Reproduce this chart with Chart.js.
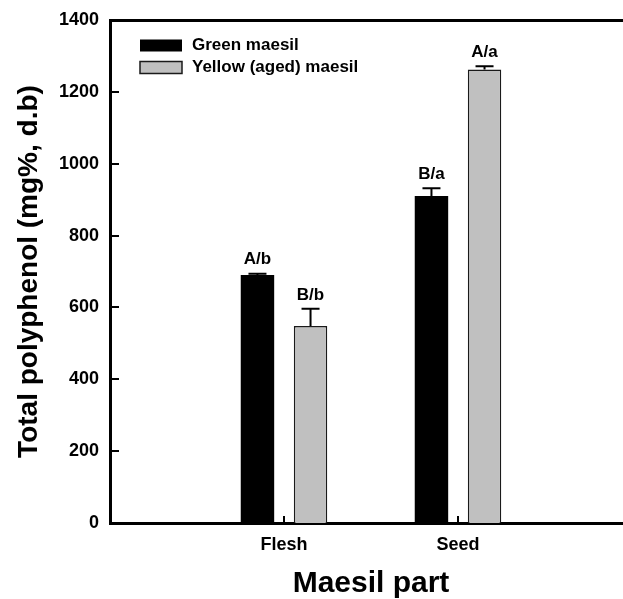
<!DOCTYPE html>
<html>
<head>
<meta charset="utf-8">
<script src="https://cdn.jsdelivr.net/npm/chart.js@4.4.1/dist/chart.umd.min.js"></script>
<style>
  html, body { margin: 0; padding: 0; background: #fff; overflow: hidden; }
  #wrap { width: 623px; height: 599px; overflow: hidden; }
</style>
</head>
<body>
<div id="wrap"><canvas id="chart" width="632" height="599"></canvas></div>
<script>
const parts = ["Flesh", "Seed"];
const greenValues = [690, 910];
const greenErrors = [4, 22];
const greenLetters = ["A/b", "B/a"];
const yellowValues = [548, 1262];
const yellowErrors = [48, 9];
const yellowLetters = ["B/b", "A/a"];

const FONT = '"Liberation Sans", Arial, sans-serif';
Chart.defaults.font.family = FONT;
Chart.defaults.color = "#000";

function toPoints(values) {
  return values.map((v, i) => ({ x: i + 1, y: v }));
}

// tick marks point into the plot, like the original figure
const inwardTicks = {
  id: "inwardTicks",
  afterDraw(chart) {
    const { ctx, chartArea } = chart;
    const { x, y } = chart.scales;
    ctx.save();
    ctx.strokeStyle = "#000";
    ctx.lineWidth = 2;
    ctx.beginPath();
    y.ticks.forEach((t) => {
      const py = Math.round(y.getPixelForValue(t.value));
      ctx.moveTo(chartArea.left, py);
      ctx.lineTo(chartArea.left + 9, py);
    });
    x.ticks.forEach((t) => {
      const px = Math.round(x.getPixelForValue(t.value));
      ctx.moveTo(px, chartArea.bottom);
      ctx.lineTo(px, chartArea.bottom - 7);
    });
    ctx.stroke();
    ctx.restore();
  },
};

// error whiskers (upper only) plus the letter labels above them
const errorBars = {
  id: "errorBars",
  afterDatasetsDraw(chart) {
    const { ctx } = chart;
    const y = chart.scales.y;
    ctx.save();
    chart.data.datasets.forEach((ds, i) => {
      const meta = chart.getDatasetMeta(i);
      meta.data.forEach((bar, j) => {
        const top = y.getPixelForValue(ds.data[j].y + ds.errors[j]);
        ctx.strokeStyle = "#000";
        ctx.lineWidth = 2;
        ctx.beginPath();
        ctx.moveTo(bar.x, bar.y);
        ctx.lineTo(bar.x, top);
        ctx.moveTo(bar.x - 9, top);
        ctx.lineTo(bar.x + 9, top);
        ctx.stroke();
        ctx.fillStyle = "#000";
        ctx.font = "bold 17px " + FONT;
        ctx.textAlign = "center";
        ctx.textBaseline = "middle";
        ctx.fillText(ds.letters[j], bar.x, top - 14);
      });
    });
    ctx.restore();
  },
};

const boxLegend = {
  id: "boxLegend",
  afterDraw(chart) {
    const { ctx } = chart;
    ctx.save();
    chart.data.datasets.forEach((ds, i) => {
      const mid = 45.5 + i * 22;
      ctx.fillStyle = ds.backgroundColor;
      ctx.fillRect(140, mid - 6, 42, 12);
      if (ds.borderWidth) {
        ctx.strokeStyle = ds.borderColor;
        ctx.lineWidth = 1.5;
        ctx.strokeRect(140, mid - 6, 42, 12);
      }
      ctx.fillStyle = "#000";
      ctx.font = "bold 17px " + FONT;
      ctx.textAlign = "left";
      ctx.textBaseline = "middle";
      ctx.fillText(ds.label, 192, mid);
    });
    ctx.restore();
  },
};

new Chart(document.getElementById("chart"), {
  type: "bar",
  data: {
    datasets: [
      {
        label: "Green maesil",
        data: toPoints(greenValues),
        errors: greenErrors,
        letters: greenLetters,
        backgroundColor: "#000000",
        borderWidth: 0,
      },
      {
        label: "Yellow (aged) maesil",
        data: toPoints(yellowValues),
        errors: yellowErrors,
        letters: yellowLetters,
        backgroundColor: "#c0c0c0",
        borderColor: "#1a1a1a",
        borderWidth: 1.5,
      },
    ],
  },
  options: {
    responsive: false,
    animation: false,
    categoryPercentage: 0.61,
    barPercentage: 0.63,
    layout: { padding: 0 },
    plugins: { legend: { display: false }, tooltip: { enabled: false } },
    scales: {
      x: {
        type: "linear",
        position: "bottom",
        min: 0,
        max: 3,
        offset: false,
        afterBuildTicks: (s) => {
          s.ticks = parts.map((_, i) => ({ value: i + 1 }));
        },
        ticks: {
          callback: (v) => parts[v - 1] ?? "",
          font: { size: 18, weight: "bold" },
          padding: 11,
          autoSkip: false,
          maxRotation: 0,
        },
        grid: { display: false, offset: false, drawTicks: false },
        border: { display: true, color: "#000", width: 3 },
        title: { display: true, text: "Maesil part", font: { size: 30, weight: "bold", lineHeight: 1.0 }, padding: { top: 0, bottom: 0 } },
        afterFit: (s) => { s.height = 76; },
      },
      xTop: {
        type: "linear",
        axis: "x",
        position: "top",
        min: 0,
        max: 3,
        offset: false,
        ticks: { display: false },
        grid: { display: false, drawTicks: false },
        border: { display: true, color: "#000", width: 3 },
        afterFit: (s) => { s.height = 3; },
      },
      y: {
        min: 0,
        max: 1400,
        ticks: { stepSize: 200, callback: (v) => String(v), font: { size: 18, weight: "bold", lineHeight: 1.0 }, padding: 11 },
        grid: { display: false, drawTicks: false },
        border: { display: true, color: "#000", width: 3 },
        title: { display: true, text: "Total polyphenol (mg%, d.b)", font: { size: 28, weight: "bold" }, padding: { top: 12, bottom: 0 } },
        afterFit: (s) => { s.width = 110; },
      },
    },
  },
  plugins: [inwardTicks, errorBars, boxLegend],
});
</script>
</body>
</html>
